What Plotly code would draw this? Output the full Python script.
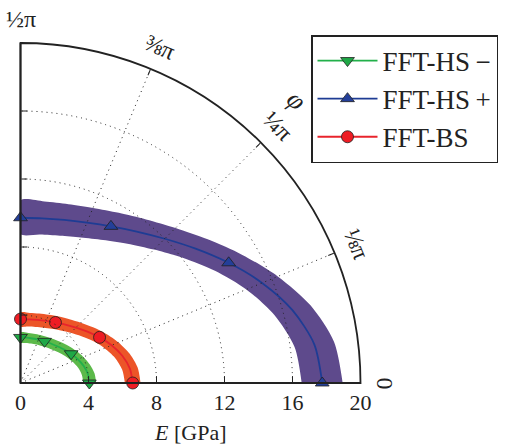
import math
import plotly.graph_objects as go

# Direction angle phi in degrees at which E was sampled
phi_deg = [0, 7.5, 15, 22.5, 30, 37.5, 45, 52.5, 60, 67.5, 75, 82.5, 90]
# a marker is drawn every 30 degrees
marked = [i % 4 == 0 for i in range(len(phi_deg))]

# Young's modulus E [GPa] along phi, with the lower / upper band limits
hs_minus    = [4.05, 4.00, 3.85, 3.65, 3.44, 3.24, 3.06, 2.93, 2.83, 2.76, 2.71, 2.69, 2.68]
hs_minus_lo = [3.69, 3.64, 3.50, 3.30, 3.10, 2.91, 2.73, 2.61, 2.51, 2.45, 2.40, 2.38, 2.37]
hs_minus_hi = [4.45, 4.39, 4.22, 4.00, 3.78, 3.57, 3.38, 3.24, 3.13, 3.06, 3.00, 2.98, 2.97]

hs_plus     = [17.75, 17.43, 16.56, 15.38, 14.14, 12.98, 12.00, 11.23, 10.64, 10.21, 9.93, 9.77, 9.72]
hs_plus_lo  = [16.54, 16.26, 15.46, 14.38, 13.21, 12.08, 11.10, 10.33, 9.72, 9.27, 8.97, 8.81, 8.76]
hs_plus_hi  = [18.95, 18.60, 17.66, 16.38, 15.07, 13.88, 12.90, 12.13, 11.56, 11.15, 10.89, 10.77, 10.74]

bs          = [6.60, 6.49, 6.20, 5.80, 5.37, 4.96, 4.61, 4.33, 4.11, 3.95, 3.84, 3.78, 3.76]
bs_lo       = [6.14, 6.03, 5.75, 5.35, 4.93, 4.52, 4.18, 3.90, 3.68, 3.52, 3.41, 3.35, 3.33]
bs_hi       = [7.06, 6.95, 6.65, 6.24, 5.80, 5.38, 5.02, 4.73, 4.51, 4.34, 4.23, 4.16, 4.14]

series_names = ["FFT-HS\u2009\u2212", "FFT-HS\u2009+", "FFT-BS"]
radial_ticks = [0, 4, 8, 12, 16, 20]
grid_radii = [4, 8, 12, 16]
grid_angles = [22.5, 45, 67.5]
angle_label_pos = [0, 22.5, 45, 67.5, 90]
angle_labels = ["0", "\u215b\u03c0", "\u00bc\u03c0", "\u215c\u03c0", "\u00bd\u03c0"]

W, H = 524, 446
OX, OY, RPX = 20.5, 383.0, 340.0   # pole position and outer radius in pixels
SERIF = "Liberation Serif"

series = [
    # name, mid, lo, hi, band colour, line colour, marker fill, symbol
    (series_names[0], hs_minus, hs_minus_lo, hs_minus_hi, "#5cb94a", "#22b04a", "#1fa846", "triangle-down"),
    (series_names[1], hs_plus, hs_plus_lo, hs_plus_hi, "#5e4a8c", "#1e3c94", "#243f99", "triangle-up"),
    (series_names[2], bs, bs_lo, bs_hi, "#ec5528", "#e8242c", "#ee1c24", "circle"),
]

fig = go.Figure()

# shaded bands first: upper edge out, lower edge back, closed on itself
for idx in (1, 2, 0):
    name, mid, lo, hi, band, _, _, _ = series[idx]
    fig.add_trace(go.Scatterpolar(
        r=list(hi) + list(lo)[::-1], theta=phi_deg + phi_deg[::-1],
        mode="lines", line=dict(width=0, shape="spline", smoothing=0.8),
        fill="toself", fillcolor=band,
        showlegend=False, hoverinfo="skip", subplot="polar"))

# centre lines with markers
for name, mid, lo, hi, band, lc, mc, sym in series:
    fills = [mc if m else "rgba(0,0,0,0)" for m in marked]
    edges = ["#202020" if m else "rgba(0,0,0,0)" for m in marked]
    fig.add_trace(go.Scatterpolar(
        r=mid, theta=phi_deg, name=name, mode="lines+markers",
        line=dict(color=lc, width=1.8, shape="spline", smoothing=0.8),
        marker=dict(symbol=sym, size=12, color=fills,
                    line=dict(color=edges, width=0.8)),
        subplot="polar"))

# grid overlay subplot
fig.add_trace(go.Scatterpolar(r=[], theta=[], subplot="polar2",
                              showlegend=False, hoverinfo="skip"))

dom = dict(x=[OX / W, (OX + RPX) / W], y=[1 - OY / H, 1 - (OY - RPX) / H])
GRID = dict(showgrid=True, gridcolor="#222222", gridwidth=1, griddash="1px,4px")

fig.update_layout(
    width=W, height=H,
    margin=dict(l=0, r=0, t=0, b=0),
    paper_bgcolor="white",
    font=dict(family=SERIF, color="#222222"),
    polar=dict(
        domain=dom, sector=[0, 90], bgcolor="white",
        radialaxis=dict(range=[0, 20], angle=0, side="clockwise",
                        tickvals=radial_ticks, ticks="inside", ticklen=6,
                        tickwidth=1.2, tickcolor="#222222",
                        showline=True, linecolor="#222222", linewidth=1.8,
                        showgrid=False,
                        tickfont=dict(family=SERIF, size=22, color="#222222")),
        angularaxis=dict(direction="counterclockwise", rotation=0,
                         tickvals=grid_angles, ticks="inside", ticklen=6,
                         tickwidth=1.2, tickcolor="#222222",
                         showticklabels=False, showline=True,
                         linecolor="#222222", linewidth=1.8, showgrid=False),
    ),
    polar2=dict(
        domain=dom, sector=[0, 90], bgcolor="rgba(0,0,0,0)",
        radialaxis=dict(range=[0, 20], angle=90, side="clockwise",
                        tickvals=grid_radii, ticks="outside", ticklen=6,
                        tickwidth=1.2, tickcolor="#222222",
                        showticklabels=False, showline=True,
                        linecolor="#222222", linewidth=1.8, **GRID),
        angularaxis=dict(direction="counterclockwise", rotation=0,
                         tickvals=grid_angles, ticks="", showticklabels=False,
                         showline=False, **GRID),
    ),
    legend=dict(x=311 / W, y=1 - 35 / H, xanchor="left", yanchor="top",
                bgcolor="white", bordercolor="#222222", borderwidth=1.5,
                font=dict(family=SERIF, size=27, color="#222222"),
                itemwidth=60, tracegroupgap=0),
)


def to_paper(deg, rpx):
    a = math.radians(deg)
    return (OX + rpx * math.cos(a)) / W, 1 - (OY - rpx * math.sin(a)) / H


annotations = []
for deg, txt in zip(angle_label_pos, angle_labels):
    x, y = to_paper(deg, 364)
    annotations.append(dict(x=x, y=y, xref="paper", yref="paper", text=txt,
                            showarrow=False, textangle=90 - deg,
                            xanchor="center", yanchor="middle",
                            font=dict(family=SERIF, size=24, color="#222222")))
x, y = to_paper(45.7, 395)
annotations.append(dict(x=x, y=y, xref="paper", yref="paper", text="<i>\u03c6</i>",
                        showarrow=False, textangle=45,
                        xanchor="center", yanchor="middle",
                        font=dict(family=SERIF, size=27, color="#222222")))
annotations.append(dict(x=(OX + RPX / 2) / W, y=1 - 432 / H, xref="paper", yref="paper",
                        text="<i>E</i> [GPa]", showarrow=False,
                        xanchor="center", yanchor="middle",
                        font=dict(family=SERIF, size=22, color="#222222")))
fig.update_layout(annotations=annotations)

fig.write_html("out.html")
